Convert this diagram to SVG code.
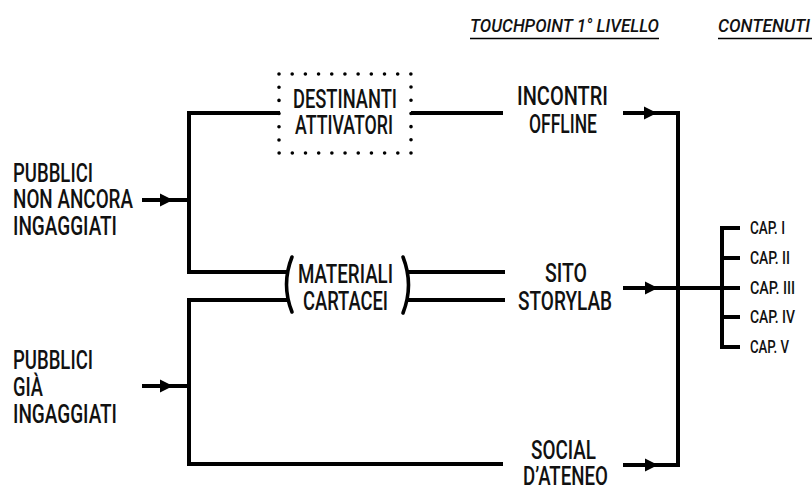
<svg xmlns="http://www.w3.org/2000/svg" xmlns:xlink="http://www.w3.org/1999/xlink" width="812" height="488" viewBox="0 0 812 488">
  <style>
    text { font-family: Roboto, "Liberation Sans", sans-serif; font-weight: 500; fill: #111; }
    .lbl { font-size: 25px; }
    .cap { font-size: 18px; }
    .hdr { font-size: 19px; font-style: italic; }
    .wire { fill: none; stroke: #000; stroke-width: 4; stroke-linejoin: miter; stroke-linecap: butt; }
    .thin { fill: none; stroke: #000; stroke-width: 1.4; }
    .dots { fill: none; stroke: #000; stroke-width: 3.6; stroke-linecap: round; stroke-dasharray: 0 13.1875; }
    .brk { fill: none; stroke: #000; stroke-width: 3.6; stroke-linecap: round; }
  </style>
  <defs>
    <!-- arrowhead, tip at origin, pointing right -->
    <path id="head" d="M0,0 L-13,-6.5 L-13,6.5 Z" fill="#000"/>
  </defs>
  <rect width="812" height="488" fill="#fff"/>

  <!-- column headers -->
  <g id="headers">
    <text class="hdr" x="470" y="32" textLength="189" lengthAdjust="spacingAndGlyphs">TOUCHPOINT 1° LIVELLO</text>
    <line class="thin" x1="470" y1="38.5" x2="659" y2="38.5"/>
    <text class="hdr" x="718" y="32" textLength="92" lengthAdjust="spacingAndGlyphs">CONTENUTI</text>
    <line class="thin" x1="718" y1="38.5" x2="812" y2="38.5"/>
  </g>

  <g id="connectors">
    <!-- audience inputs -->
    <line class="wire" x1="142" y1="200" x2="189" y2="200"/>
    <use xlink:href="#head" x="173" y="200"/>
    <line class="wire" x1="142" y1="386" x2="189" y2="386"/>
    <use xlink:href="#head" x="173" y="386"/>
    <!-- branches to the touchpoints -->
    <path class="wire" d="M280,113 H189 V272 H287"/>
    <path class="wire" d="M287,300 H189 V464 H503"/>
    <line class="wire" x1="411" y1="113" x2="503" y2="113"/>
    <line class="wire" x1="407" y1="272" x2="505" y2="272"/>
    <line class="wire" x1="407" y1="300" x2="505" y2="300"/>
    <!-- touchpoints to contents -->
    <path class="wire" d="M623,113 H678 V465 H623"/>
    <use xlink:href="#head" x="657" y="113"/>
    <use xlink:href="#head" x="658" y="465"/>
    <line class="wire" x1="623" y1="288" x2="722" y2="288"/>
    <use xlink:href="#head" x="658" y="288"/>
    <!-- chapter bracket -->
    <path class="wire" d="M740,228 H722 V347 H740 M722,258 H740 M722,288 H740 M722,317 H740"/>
  </g>

  <g id="pubblici-non-ingaggiati">
    <text class="lbl" x="13" y="182" textLength="80" lengthAdjust="spacingAndGlyphs">PUBBLICI</text>
    <text class="lbl" x="13" y="208" textLength="120" lengthAdjust="spacingAndGlyphs">NON ANCORA</text>
    <text class="lbl" x="13" y="235" textLength="104" lengthAdjust="spacingAndGlyphs">INGAGGIATI</text>
  </g>

  <g id="pubblici-ingaggiati">
    <text class="lbl" x="13" y="369" textLength="80" lengthAdjust="spacingAndGlyphs">PUBBLICI</text>
    <text class="lbl" x="13" y="396" textLength="30" lengthAdjust="spacingAndGlyphs">GIÀ</text>
    <text class="lbl" x="13" y="423" textLength="104" lengthAdjust="spacingAndGlyphs">INGAGGIATI</text>
  </g>

  <g id="destinanti-attivatori">
    <rect class="dots" x="279" y="74" width="132" height="79"/>
    <text class="lbl" x="293" y="108" textLength="104" lengthAdjust="spacingAndGlyphs">DESTINANTI</text>
    <text class="lbl" x="295" y="134" textLength="98" lengthAdjust="spacingAndGlyphs">ATTIVATORI</text>
  </g>

  <g id="materiali-cartacei">
    <path class="brk" d="M292,257 Q281,284.5 292,312"/>
    <path class="brk" d="M403,257 Q414,285 403,313"/>
    <text class="lbl" x="298" y="283" textLength="95" lengthAdjust="spacingAndGlyphs">MATERIALI</text>
    <text class="lbl" x="303" y="310" textLength="85" lengthAdjust="spacingAndGlyphs">CARTACEI</text>
  </g>

  <g id="incontri-offline">
    <text class="lbl" x="517" y="105" textLength="91" lengthAdjust="spacingAndGlyphs">INCONTRI</text>
    <text class="lbl" x="529" y="133" textLength="68" lengthAdjust="spacingAndGlyphs">OFFLINE</text>
  </g>

  <g id="sito-storylab">
    <text class="lbl" x="545" y="282" textLength="42" lengthAdjust="spacingAndGlyphs">SITO</text>
    <text class="lbl" x="518" y="310" textLength="94" lengthAdjust="spacingAndGlyphs">STORYLAB</text>
  </g>

  <g id="social-ateneo">
    <text class="lbl" x="531" y="459" textLength="65" lengthAdjust="spacingAndGlyphs">SOCIAL</text>
    <text class="lbl" x="523" y="485" textLength="85" lengthAdjust="spacingAndGlyphs">D’ATENEO</text>
  </g>

  <g id="capitoli">
    <text class="cap" x="750" y="234" textLength="35" lengthAdjust="spacingAndGlyphs">CAP. I</text>
    <text class="cap" x="750" y="264" textLength="40" lengthAdjust="spacingAndGlyphs">CAP. II</text>
    <text class="cap" x="750" y="294" textLength="45" lengthAdjust="spacingAndGlyphs">CAP. III</text>
    <text class="cap" x="750" y="323" textLength="45" lengthAdjust="spacingAndGlyphs">CAP. IV</text>
    <text class="cap" x="750" y="353" textLength="39" lengthAdjust="spacingAndGlyphs">CAP. V</text>
  </g>
</svg>
